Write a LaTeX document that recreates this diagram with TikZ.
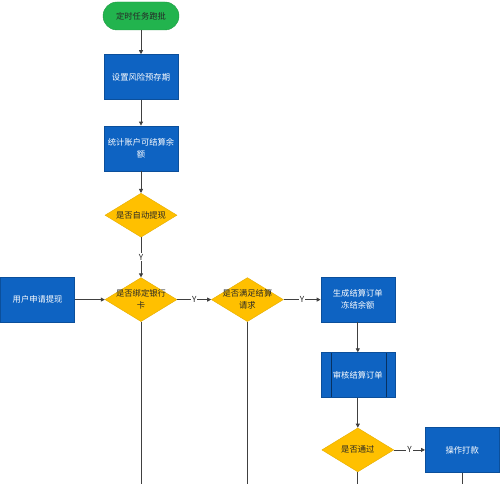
\documentclass[tikz,border=0pt]{standalone}
\usepackage{fontspec}
\setmainfont{Noto Sans CJK SC}
\usepackage{xcolor}
\usepackage{tikz}
\usetikzlibrary{arrows.meta,positioning,shapes.geometric}

\definecolor{flowgreen}{RGB}{34,180,78}
\definecolor{flowblue}{RGB}{14,99,194}
\definecolor{flowgold}{RGB}{255,192,0}
\definecolor{linegray}{RGB}{64,64,64}
\newcommand{\dlabel}[1]{\smash{\makebox[0pt]{\raisebox{-2.5pt}{\begin{tabular}{@{}c@{}}#1\end{tabular}}}}}

\begin{document}
\begin{tikzpicture}[
  x=1pt,y=1pt,
  font=\fontsize{8.3}{12}\selectfont,
  startstop/.style={rectangle,rounded corners=14pt,draw=flowgreen!85!black,fill=flowgreen,text=black!85,minimum width=76pt,minimum height=28pt},
  process/.style={rectangle,draw=flowblue!80!black,fill=flowblue,text=white,minimum width=74pt,minimum height=45pt,align=center},
  subproc/.style={process,path picture={
      \draw[flowblue!50!black] ([xshift=10pt]path picture bounding box.north west) -- ([xshift=10pt]path picture bounding box.south west);
      \draw[flowblue!50!black] ([xshift=-9pt]path picture bounding box.north east) -- ([xshift=-9pt]path picture bounding box.south east);}},
  decision/.style={diamond,draw=flowgold!90!black,fill=flowgold,text=black!85,minimum width=72pt,minimum height=44pt,inner sep=0pt},
  arrow/.style={-{Triangle[length=4pt,width=4pt]},line width=0.8pt,draw=linegray},
  line/.style={line width=0.8pt,draw=linegray},
  yes/.style={fill=white,inner sep=1pt,text=black!85},
  node distance=24pt and 30pt
]
\useasboundingbox (0,0) rectangle (500,-484);
\node[startstop] (start) at (141,-16) {定时任务跑批};
\node[process,below=24pt of start] (risk) {设置风险预存期};
\node[process,below=26pt of risk] (stat) {统计账户可结算余\\额};
\node[decision,below=22pt of stat] (auto) {\dlabel{是否自动提现}};
\node[decision,below=40pt of auto] (bank) {\dlabel{是否绑定银行\\卡}};
\node[process,left=30pt of bank] (apply) {用户申请提现};
\node[decision,right=34pt of bank] (meet) {\dlabel{是否满足结算\\请求}};
\node[process,right=37pt of meet] (order) {生成结算订单\\冻结余额};
\node[subproc,below=30pt of order] (audit) {审核结算订单};
\node[decision,below=30pt of audit] (pass) {\dlabel{是否通过}};
\node[process,right=31pt of pass] (pay) {操作打款};

\coordinate (bankout) at (bank |- 0,-484);
\coordinate (meetout) at (meet |- 0,-484);
\coordinate (passout) at (pass |- 0,-484);
\coordinate (payout) at (pay |- 0,-484);

\draw[arrow] (start) -- (risk);
\draw[arrow] (risk) -- (stat);
\draw[arrow] (stat) -- (auto);
\draw[arrow] (auto) -- node[yes] {Y} (bank);
\draw[arrow] (apply) -- (bank);
\draw[arrow] (bank) -- node[yes] {Y} (meet);
\draw[arrow] (meet) -- node[yes] {Y} (order);
\draw[arrow] (order) -- (audit);
\draw[arrow] (audit) -- (pass);
\draw[arrow] (pass) -- node[yes] {Y} (pay);
\draw[line] (bank) -- (bankout);
\draw[line] (meet) -- (meetout);
\draw[line] (pass) -- (passout);
\draw[line] (pay) -- (payout);
\end{tikzpicture}
\end{document}
